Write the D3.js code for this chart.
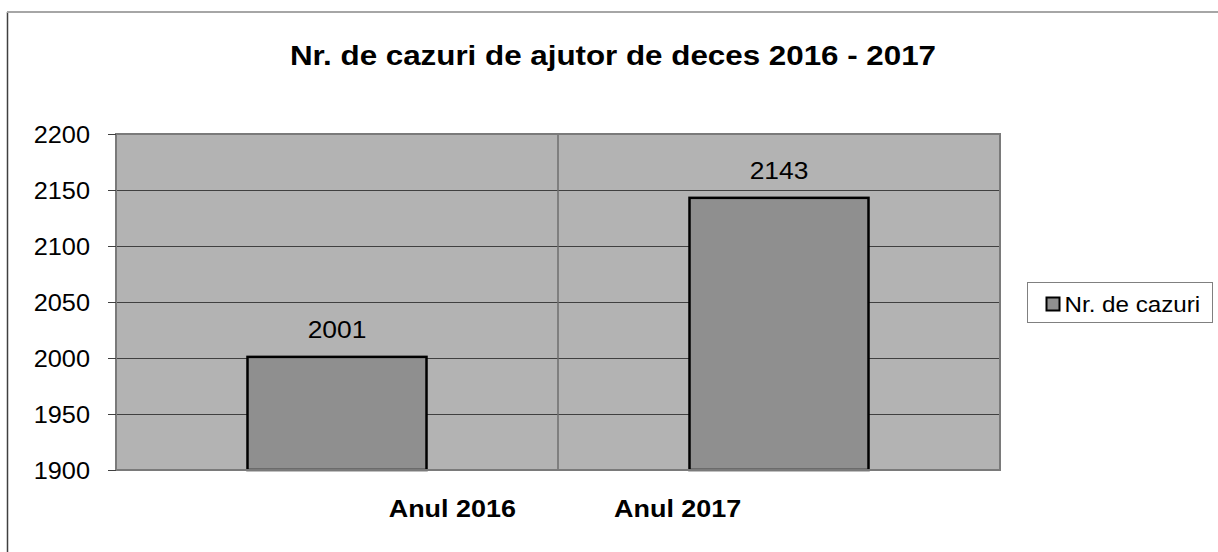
<!DOCTYPE html>
<html>
<head>
<meta charset="utf-8">
<script src="https://cdn.jsdelivr.net/npm/d3@7"></script>
<style>
  body { margin: 0; background: #fff; }
  text { font-family: "Liberation Sans", Arial, sans-serif; fill: #000; }
</style>
</head>
<body>
<div id="chart"></div>
<script>
var categories = ['Anul 2016', 'Anul 2017'];
var values = [2001, 2143];
var yTicks = [1900, 1950, 2000, 2050, 2100, 2150, 2200];
var seriesName = 'Nr. de cazuri';
var title = 'Nr. de cazuri de ajutor de deces 2016 - 2017';

var width = 1218;
var height = 552;
var margin = { top: 134, right: 218, bottom: 82, left: 116 };
var plotW = width - margin.left - margin.right;
var plotH = height - margin.top - margin.bottom;
var sx = 1.1; // text is drawn a little wider than tall

var svg = d3.select('#chart')
    .append('svg')
    .attr('width', width)
    .attr('height', height);

// outer chart frame
svg.append('line')
    .attr('x1', 7.5).attr('x2', 7.5)
    .attr('y1', 12).attr('y2', height)
    .attr('stroke', '#404040').attr('stroke-width', 1.5);
svg.append('line')
    .attr('x1', 7).attr('x2', width)
    .attr('y1', 12).attr('y2', 12)
    .attr('stroke', '#a6a6a6').attr('stroke-width', 2);

function wideText(sel, x, y) {
    return sel.attr('transform', 'translate(' + x + ',' + y + ') scale(' + sx + ',1)');
}

wideText(svg.append('text'), 613, 65)
    .attr('text-anchor', 'middle')
    .style('font-size', '28.5px')
    .style('font-weight', 'bold')
    .text(title);

var g = svg.append('g')
    .attr('transform', 'translate(' + margin.left + ',' + margin.top + ')');

var x = d3.scaleBand()
    .domain(categories)
    .range([0, plotW])
    .paddingInner(0)
    .paddingOuter(0);

var y = d3.scaleLinear()
    .domain([yTicks[0], yTicks[yTicks.length - 1]])
    .range([plotH, 0]);

g.append('rect')
    .attr('width', plotW)
    .attr('height', plotH)
    .attr('fill', '#b3b3b3');

// horizontal gridlines
g.selectAll('.grid')
    .data(yTicks.slice(1, -1))
    .enter()
    .append('line')
    .attr('x1', 0).attr('x2', plotW)
    .attr('y1', function (d) { return Math.round(y(d)) + 0.5; })
    .attr('y2', function (d) { return Math.round(y(d)) + 0.5; })
    .attr('stroke', '#404040')
    .attr('stroke-width', 1);

// category separators
g.selectAll('.sep')
    .data(categories.slice(1))
    .enter()
    .append('line')
    .attr('x1', function (d) { return x(d); })
    .attr('x2', function (d) { return x(d); })
    .attr('y1', 0).attr('y2', plotH)
    .attr('stroke', '#6e6e6e')
    .attr('stroke-width', 1.5);

var barW = x.bandwidth() * 0.405;

g.selectAll('.bar')
    .data(values)
    .enter()
    .append('rect')
    .attr('x', function (d, i) { return x(categories[i]) + (x.bandwidth() - barW) / 2; })
    .attr('y', function (d) { return y(d); })
    .attr('width', barW)
    .attr('height', function (d) { return plotH - y(d); })
    .attr('fill', '#8f8f8f')
    .attr('stroke', '#000')
    .attr('stroke-width', 2.5);

g.selectAll('.val')
    .data(values)
    .enter()
    .append('text')
    .attr('text-anchor', 'middle')
    .style('font-size', '24px')
    .each(function (d, i) {
        wideText(d3.select(this), x(categories[i]) + x.bandwidth() / 2, y(d) - 19);
    })
    .text(function (d) { return d; });

// plot border
g.append('rect')
    .attr('width', plotW)
    .attr('height', plotH)
    .attr('fill', 'none')
    .attr('stroke', '#7a7a7a')
    .attr('stroke-width', 2);

// y axis ticks and labels
g.selectAll('.tick')
    .data(yTicks)
    .enter()
    .append('line')
    .attr('x1', -8).attr('x2', 0)
    .attr('y1', function (d) { return Math.round(y(d)) + 0.5; })
    .attr('y2', function (d) { return Math.round(y(d)) + 0.5; })
    .attr('stroke', '#404040');

g.selectAll('.ylab')
    .data(yTicks)
    .enter()
    .append('text')
    .attr('text-anchor', 'end')
    .style('font-size', '23px')
    .each(function (d) {
        wideText(d3.select(this), -26, y(d) + 9);
    })
    .text(function (d) { return d; });

// category labels sit close to the middle separator
var mid = x(categories[1]);
wideText(g.append('text'), mid - 42, plotH + 47)
    .attr('text-anchor', 'end')
    .style('font-size', '24.5px')
    .style('font-weight', 'bold')
    .text(categories[0]);
wideText(g.append('text'), mid + 56, plotH + 47)
    .attr('text-anchor', 'start')
    .style('font-size', '24.5px')
    .style('font-weight', 'bold')
    .text(categories[1]);

// legend
var legend = svg.append('g')
    .attr('transform', 'translate(1027.5,282.5)');
legend.append('rect')
    .attr('width', 185)
    .attr('height', 40)
    .attr('fill', '#fff')
    .attr('stroke', '#808080');
legend.append('rect')
    .attr('x', 19).attr('y', 15)
    .attr('width', 13).attr('height', 13)
    .attr('fill', '#8f8f8f')
    .attr('stroke', '#000')
    .attr('stroke-width', 2);
wideText(legend.append('text'), 37, 29)
    .style('font-size', '22px')
    .text(seriesName);
</script>
</body>
</html>
